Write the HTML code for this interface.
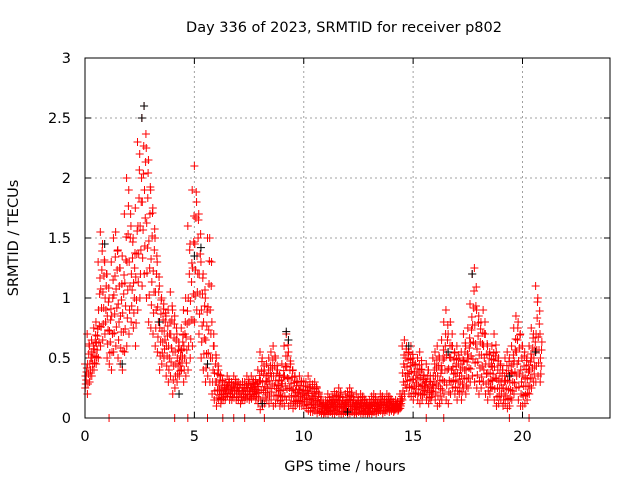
<!DOCTYPE html>
<html><head><meta charset="utf-8"><style>
body{margin:0;background:#fff;}
svg{display:block;font-family:"DejaVu Sans","Liberation Sans",sans-serif;}
</style></head><body>
<svg id="chart" width="640" height="480" xmlns="http://www.w3.org/2000/svg">
<rect width="640" height="480" fill="#fff"/>
<text x="344" y="32" text-anchor="middle" font-size="14.5">Day 336 of 2023, SRMTID for receiver p802</text>
<text x="345" y="471" text-anchor="middle" font-size="14.5">GPS time / hours</text>
<text transform="translate(18,238) rotate(-90)" text-anchor="middle" font-size="14.5">SRMTID / TECUs</text>
<g id="grid"></g>
<g id="ticks"></g>
<g id="marks"></g>
<rect x="85" y="58" width="525" height="360" fill="none" stroke="#000" stroke-width="1"/>
</svg>
<script>
const xTicks=[0,5,10,15,20];
const yTicks=[0,0.5,1,1.5,2,2.5,3];
const yTickLabels=["0","0.5","1","1.5","2","2.5","3"];
const binStart=0, binStep=0.1;
const hiVals=[0.45,0.7,0.6,0.65,0.75,0.8,1.3,1.55,1.45,1.3,
1.2,1.0,1.3,1.5,1.55,1.4,1.25,1.35,1.7,2.0,
1.9,1.6,1.5,1.75,2.3,2.2,2.5,2.6,2.25,2.15,
1.9,1.75,1.5,1.3,1.1,1.0,0.95,0.85,0.9,1.05,
0.9,0.85,0.7,0.6,0.75,0.9,1.0,1.6,1.45,1.9,
2.1,1.8,1.7,1.3,1.2,1.0,1.5,1.5,0.8,0.6,
0.5,0.4,0.35,0.3,0.3,0.35,0.3,0.3,0.35,0.3,
0.3,0.28,0.3,0.3,0.35,0.3,0.35,0.3,0.32,0.4,
0.55,0.5,0.4,0.45,0.5,0.55,0.6,0.5,0.4,0.35,
0.45,0.6,0.7,0.55,0.45,0.4,0.35,0.3,0.35,0.3,
0.3,0.3,0.35,0.25,0.28,0.3,0.25,0.2,0.15,0.12,
0.15,0.2,0.15,0.18,0.22,0.2,0.25,0.2,0.15,0.2,
0.22,0.25,0.2,0.15,0.2,0.15,0.2,0.18,0.15,0.12,
0.15,0.18,0.2,0.15,0.15,0.2,0.18,0.15,0.2,0.18,
0.15,0.12,0.15,0.12,0.2,0.6,0.65,0.6,0.55,0.6,
0.5,0.45,0.5,0.55,0.4,0.35,0.45,0.4,0.3,0.5,
0.55,0.6,0.5,0.65,0.8,0.9,0.7,0.8,0.6,0.55,
0.6,0.5,0.55,0.7,0.6,0.75,0.95,1.2,1.25,0.9,
0.85,0.8,0.9,0.7,0.6,0.55,0.6,0.7,0.55,0.5,
0.45,0.4,0.5,0.55,0.5,0.6,0.75,0.85,0.8,0.7,
0.6,0.55,0.5,0.6,0.75,0.7,1.1,1.0,0.7];
const loVals=[0.25,0.2,0.3,0.35,0.4,0.45,0.5,0.6,0.65,0.7,
0.5,0.45,0.4,0.55,0.6,0.5,0.45,0.4,0.55,0.6,
0.7,0.8,0.75,0.6,0.9,1.0,1.1,1.2,1.0,0.8,
0.75,0.7,0.6,0.55,0.4,0.45,0.5,0.35,0.3,0.35,
0.2,0.25,0.3,0.35,0.4,0.3,0.35,0.4,0.5,0.6,
0.8,0.9,0.7,0.5,0.4,0.3,0.35,0.3,0.2,0.15,
0.1,0.15,0.12,0.15,0.15,0.18,0.15,0.15,0.17,0.15,
0.15,0.12,0.15,0.15,0.16,0.15,0.16,0.18,0.15,0.12,
0.07,0.1,0.12,0.15,0.12,0.15,0.1,0.12,0.15,0.1,
0.12,0.1,0.15,0.1,0.12,0.08,0.1,0.12,0.1,0.1,
0.1,0.08,0.06,0.05,0.05,0.06,0.04,0.05,0.04,0.03,
0.04,0.03,0.05,0.04,0.03,0.05,0.04,0.03,0.04,0.05,
0.03,0.04,0.05,0.03,0.04,0.05,0.04,0.03,0.04,0.03,
0.04,0.03,0.05,0.04,0.05,0.06,0.04,0.05,0.06,0.05,
0.06,0.05,0.07,0.06,0.08,0.15,0.2,0.25,0.2,0.18,
0.15,0.2,0.15,0.12,0.15,0.2,0.15,0.12,0.15,0.2,
0.15,0.1,0.12,0.15,0.2,0.15,0.12,0.2,0.25,0.2,
0.15,0.2,0.15,0.25,0.2,0.25,0.3,0.35,0.3,0.25,
0.2,0.25,0.3,0.2,0.15,0.2,0.25,0.15,0.1,0.12,
0.15,0.1,0.12,0.08,0.1,0.15,0.2,0.25,0.15,0.1,
0.1,0.12,0.15,0.2,0.25,0.3,0.3,0.35,0.3];
const blackT=[0.9,1.7,2.6,2.7,3.4,4.3,5.0,5.3,5.6,8.1,9.2,9.3,12.0,14.8,16.6,17.7,19.4,20.6];
const blackV=[1.45,0.45,2.5,2.6,0.8,0.2,1.35,1.42,0.45,0.12,0.72,0.65,0.05,0.6,0.55,1.2,0.35,0.55];
const zeroT=[1.1,4.1,4.7,5.6,6.3,6.8,7.3,8.2,15.6,16.4,19.4,20.3];
const zeroV=[0,0,0,0,0,0,0,0,0,0,0,0];

const NS="http://www.w3.org/2000/svg";
const X0=85,X1=610,Y0=418,Y1=58;
const xs=t=>X0+(t/24)*(X1-X0);
const ys=v=>Y0-(v/3)*(Y0-Y1);
const grid=document.getElementById('grid'),ticks=document.getElementById('ticks'),marks=document.getElementById('marks');
function mk(tag,attrs,parent){const e=document.createElementNS(NS,tag);for(const k in attrs)e.setAttribute(k,attrs[k]);parent.appendChild(e);return e;}
xTicks.forEach(t=>{
  const x=xs(t);
  if(t>0){const g=mk('line',{x1:x,y1:Y0,x2:x,y2:Y1,stroke:'#a0a0a0','stroke-dasharray':'2,3'},grid);
  
  }
  mk('line',{x1:x,y1:Y0,x2:x,y2:Y0-6,stroke:'#000'},ticks);
  mk('line',{x1:x,y1:Y1,x2:x,y2:Y1+6,stroke:'#000'},ticks);
  const l=mk('text',{x:x,y:Y0+23,'text-anchor':'middle','font-size':14.5},ticks);l.textContent=String(t);
  
  
});
yTicks.forEach((v,i)=>{
  const y=ys(v);
  if(v>0&&v<3){const g=mk('line',{x1:X0,y1:y,x2:X1,y2:y,stroke:'#a0a0a0','stroke-dasharray':'2,3'},grid);
  
  }
  mk('line',{x1:X0,y1:y,x2:X0+6,y2:y,stroke:'#000'},ticks);
  mk('line',{x1:X1,y1:y,x2:X1-6,y2:y,stroke:'#000'},ticks);
  const l=mk('text',{x:X0-14,y:y+5,'text-anchor':'end','font-size':14.5},ticks);l.textContent=yTickLabels[i];
  
  
});
function plus(t,v,color,name){
  const x=xs(t),y=ys(v);
  const p=mk('path',{d:`M${x-4},${y}h8M${x},${y-4}v8`,stroke:color,'stroke-width':1,fill:'none'},marks);
  
  
}
const offs=[0,0.35,0.7,0.2,0.55,0.85,0.1];
hiVals.forEach((h,i)=>{
  const lo=loVals[i],t=binStart+i*binStep;
  for(let k=0;k<=6;k++){
    const f=k/6;
    plus(t+offs[k]*binStep,lo+(h-lo)*(k%2?f:1-f),'#ff0000','red-point');
  }
});
blackT.forEach((t,i)=>plus(t,blackV[i],'#000','black-point'));
zeroT.forEach((t,i)=>plus(t,zeroV[i],'#ff0000','zero-point'));
</script>
</body></html>
